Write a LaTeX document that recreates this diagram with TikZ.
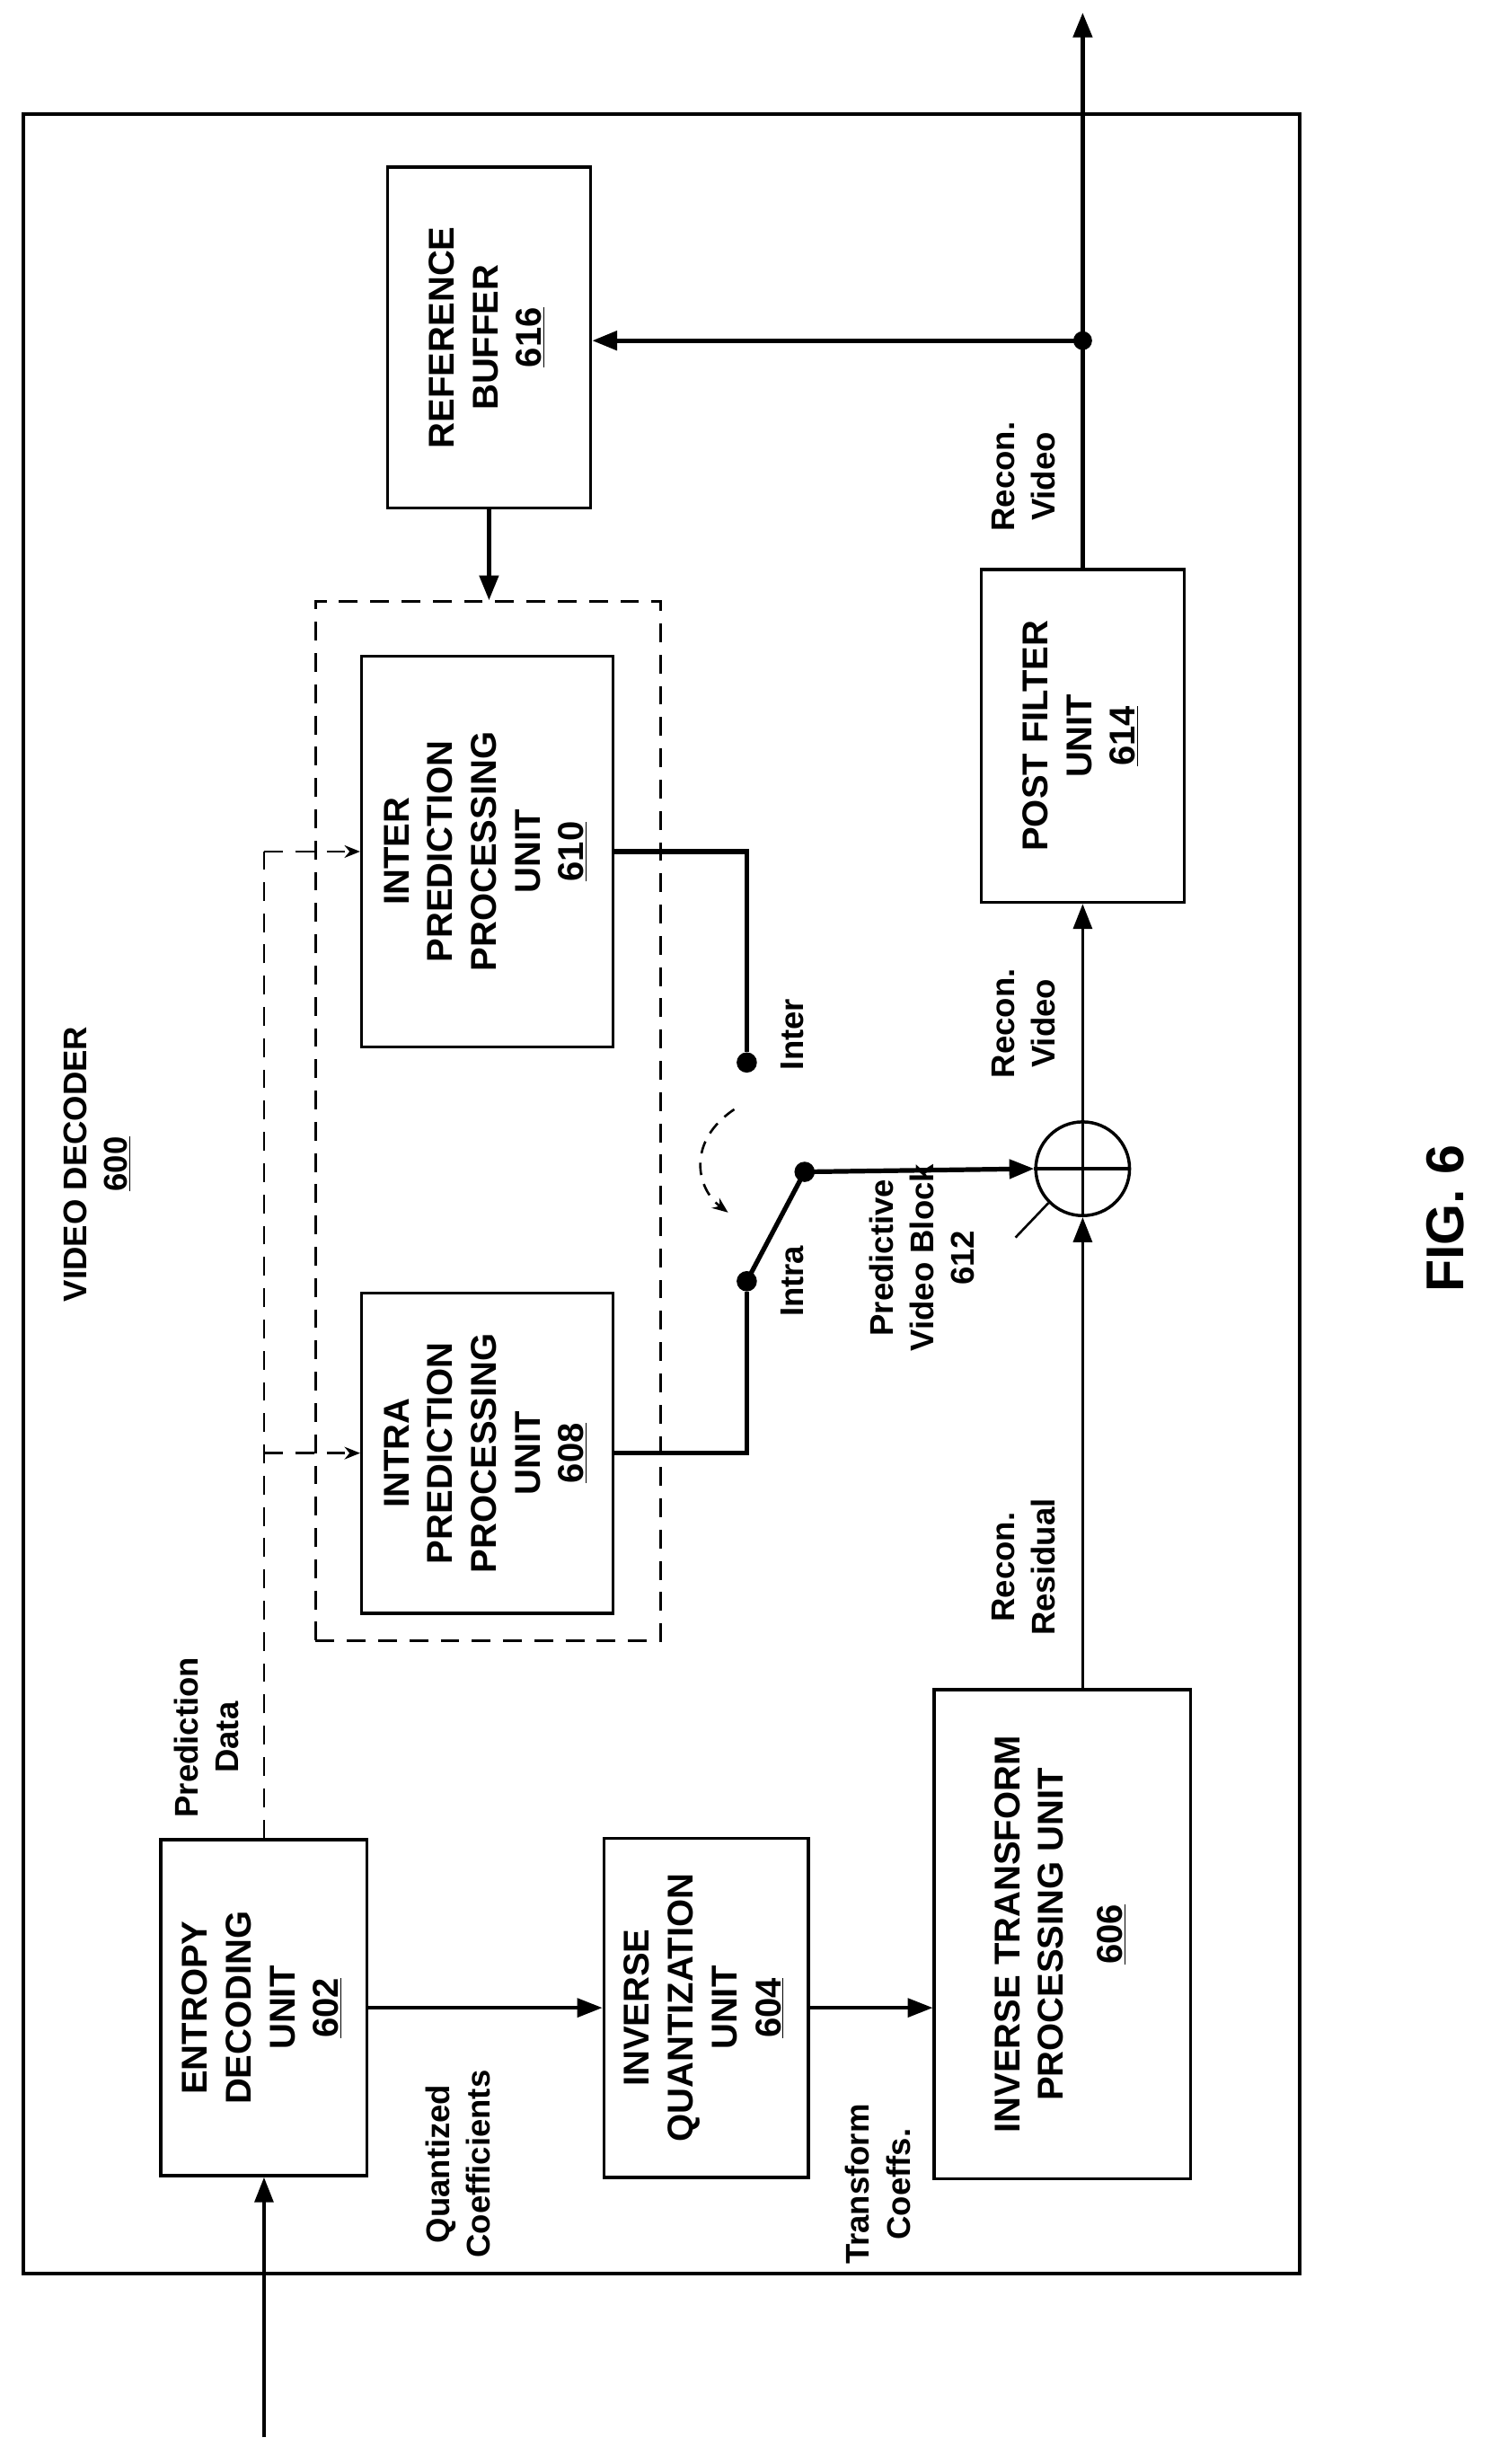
\documentclass[tikz,border=0pt]{standalone}
\usepackage{fontspec}
\setmainfont{Liberation Sans}
\usetikzlibrary{arrows.meta}
\newcommand{\rt}[1]{\rotatebox{90}{\begin{tabular}{@{}c@{}}#1\end{tabular}}}
\begin{document}
\begin{tikzpicture}[x=1pt,y=-1pt,
  box/.style={draw,line width=2pt,inner sep=0pt,font=\bfseries\fontsize{23}{28}\selectfont},
  lbl/.style={font=\bfseries\fontsize{21}{26}\selectfont,inner sep=0pt},
  thick line/.style={line width=3pt},
  dsh/.style={line width=1.5pt,dash pattern=on 12pt off 8pt},
  arr/.style={line width=2pt,-{Triangle[length=16pt,width=12pt]}},
  tarr/.style={line width=3pt,-{Triangle[length=16pt,width=12pt]}},
  dot/.style={circle,fill,inner sep=0pt,minimum size=13pt}]
\useasboundingbox (0,0) rectangle (960,1577);
\node[draw,line width=2pt,minimum width=817pt,minimum height=1382pt] (frame) at (423.5,764) {};
\node[draw,dsh,minimum width=221pt,minimum height=665pt] (dbox) at (312.5,717.5) {};
\node[box,minimum width=132pt,minimum height=215pt] (ent) at (169,1285) {\rt{ENTROPY\\DECODING\\UNIT\\\underline{602}}};
\node[box,minimum width=131pt,minimum height=217pt] (iq) at (452,1285) {\rt{INVERSE\\QUANTIZATION\\UNIT\\\underline{604}}};
\node[box,minimum width=164pt,minimum height=313pt] (it) at (680,1238) {\rt{INVERSE TRANSFORM\\PROCESSING UNIT\\[10pt]\underline{606}}};
\node[box,minimum width=161pt,minimum height=205pt] (intra) at (312,930) {\rt{INTRA\\PREDICTION\\PROCESSING\\UNIT\\\underline{608}}};
\node[box,minimum width=161pt,minimum height=250pt] (inter) at (312,545) {\rt{INTER\\PREDICTION\\PROCESSING\\UNIT\\\underline{610}}};
\node[box,minimum width=130pt,minimum height=218pt] (rb) at (313,216) {\rt{REFERENCE\\BUFFER\\\underline{616}}};
\node[box,minimum width=130pt,minimum height=213pt] (pf) at (693,471) {\rt{POST FILTER\\UNIT\\\underline{614}}};
\node[draw,circle,line width=2pt,minimum size=60pt,inner sep=0pt] (add) at (693,748) {};
\draw[line width=2pt] (add.north)--(add.south) (add.west)--(add.east);
\coordinate (in) at (169,1560);
\draw[arr] (in) -- (ent.south);
\draw[arr] (ent.east) -- (iq.west);
\draw[arr] (iq.east) -- (iq.east -| it.west);
\draw[arr] (it.north -| add) -- (add.south);
\draw[arr] (add.north) -- (pf.south);
\coordinate (j) at (693,218);
\coordinate (out) at (693,8);
\draw[tarr] (pf.north) -- (out);
\node[dot,minimum size=12pt] (jd) at (j) {};
\draw[tarr] (j) -- (j -| rb.east);
\draw[tarr] (rb.south) -- (rb.south |- dbox.north);
\coordinate (pd1) at (169,545);
\coordinate (pd2) at (169,930);
\draw[dsh] (ent.north) -- (pd1);
\draw[dsh,-{Stealth[length=10pt,width=8pt]}] (pd1) -- (inter.west);
\draw[dsh,-{Stealth[length=10pt,width=8pt]}] (pd2) -- (intra.west);
\node[dot] (dinter) at (478,680) {};
\node[dot] (dintra) at (478,820) {};
\node[dot] (dsw) at (515,750) {};
\draw[thick line] (inter.east) -- (478,545) -- (dinter);
\draw[thick line] (intra.east) -- (478,930) -- (dintra);
\draw[thick line] (dintra.center) -- (dsw.center);
\draw[tarr] (dsw.center) -- (add.west);
\draw[line width=1.5pt,dash pattern=on 8pt off 6pt,-{Stealth[length=10pt,width=8pt]}] (470,710) .. controls (440,730) and (445,760) .. (466,776);
\draw[line width=1.5pt] (add.south west) -- (650,792);
\node[lbl,rotate=90] (tinter) at (507,662) {Inter};
\node[lbl,rotate=90] (tintra) at (507,820) {Intra};
\node[lbl,rotate=90,align=center] (tpvb) at (590,805) {Predictive\\Video Block\\612};
\node[lbl,rotate=90,align=center] (tqc) at (293,1385) {Quantized\\Coefficients};
\node[lbl,rotate=90,align=center] (ttc) at (562,1398) {Transform\\Coeffs.};
\node[lbl,rotate=90,align=center] (trr) at (655,1003) {Recon.\\Residual};
\node[lbl,rotate=90,align=center] (trv1) at (655,655) {Recon.\\Video};
\node[lbl,rotate=90,align=center] (trv2) at (655,305) {Recon.\\Video};
\node[lbl,rotate=90,align=center] (tpd) at (132,1112) {Prediction\\Data};
\node[lbl,rotate=90,align=center] (tvd) at (62,745) {VIDEO DECODER\\\underline{600}};
\node[font=\bfseries\fontsize{34}{40}\selectfont,rotate=90] (fig) at (925,780) {FIG. 6};
\end{tikzpicture}
\end{document}
